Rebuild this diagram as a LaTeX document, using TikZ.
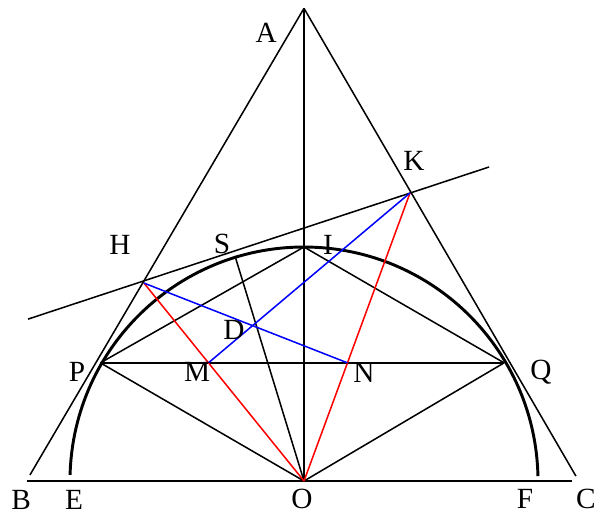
\documentclass[tikz,border=0pt]{standalone}
\usepackage{fontspec}
\setmainfont{Liberation Serif}
\usepackage{tikz}

\begin{document}
\begin{tikzpicture}[x=7.02cm, y=7.02cm, line width=1.3pt,
    lbl/.style={inner sep=0pt, font=\fontsize{25}{25}\selectfont},
    halfcircle/.style={line width=2.5pt}]
            \useasboundingbox (-1.2991,-0.1538) rectangle (1.2521,2.0556);
            % points
            \coordinate (O) at (0,0);
            \coordinate (A) at (0,2.02);
            \coordinate (B) at (-1.171,0.026);
            \coordinate (C) at (1.162,0.021);
            \coordinate (bl) at (-1.184,0);
            \coordinate (br) at (1.145,0);
            \coordinate (E) at (178.5:1);
            \coordinate (I) at (0,1);
            \coordinate (P) at (-0.87,0.505);
            \coordinate (Q) at (0.855,0.505);
            \coordinate (H) at (-0.684,0.846);
            \coordinate (K) at (0.453,1.231);
            \coordinate (hk1) at (-1.179,0.692);
            \coordinate (hk2) at (0.791,1.342);
            \coordinate (S) at (-0.295,0.962);
            \coordinate (M) at (intersection of H--O and P--Q);
            \coordinate (N) at (intersection of K--O and P--Q);
            \coordinate (D) at (intersection of H--N and M--K);
            % lines
            \draw (bl) -- (br);
            \draw (A) -- (B);
            \draw (A) -- (C);
            \draw (A) -- (O);
            \draw[halfcircle] (E) arc[start angle=178.5, end angle=1.2, radius=1];
            \draw (hk1) -- (hk2);
            \draw (P) -- (Q);
            \draw (P) -- (I) -- (Q);
            \draw (P) -- (O) -- (Q);
            \draw (S) -- (O);
            \draw[red] (H) -- (O);
            \draw[red] (K) -- (O);
            \draw[blue] (H) -- (N);
            \draw[blue] (M) -- (K);
            % labels
            \node[lbl] (lA) at (-0.162,1.915) {A};
            \node[lbl] (lH) at (-0.786,1.009) {H};
            \node[lbl] (lS) at (-0.350,1.013) {S};
            \node[lbl] (lI) at (0.103,1.009) {I};
            \node[lbl] (lK) at (0.470,1.368) {K};
            \node[lbl] (lD) at (-0.299,0.645) {D};
            \node[lbl] (lP) at (-0.970,0.466) {P};
            \node[lbl] (lM) at (-0.457,0.466) {M};
            \node[lbl] (lN) at (0.256,0.462) {N};
            \node[lbl] (lQ) at (1.013,0.466) {Q};
            \node[lbl] (lB) at (-1.209,-0.079) {B};
            \node[lbl] (lE) at (-0.983,-0.079) {E};
            \node[lbl] (lO) at (-0.009,-0.077) {O};
            \node[lbl] (lF) at (0.944,-0.077) {F};
            \node[lbl] (lC) at (1.205,-0.077) {C};
        \end{tikzpicture}
\end{document}
